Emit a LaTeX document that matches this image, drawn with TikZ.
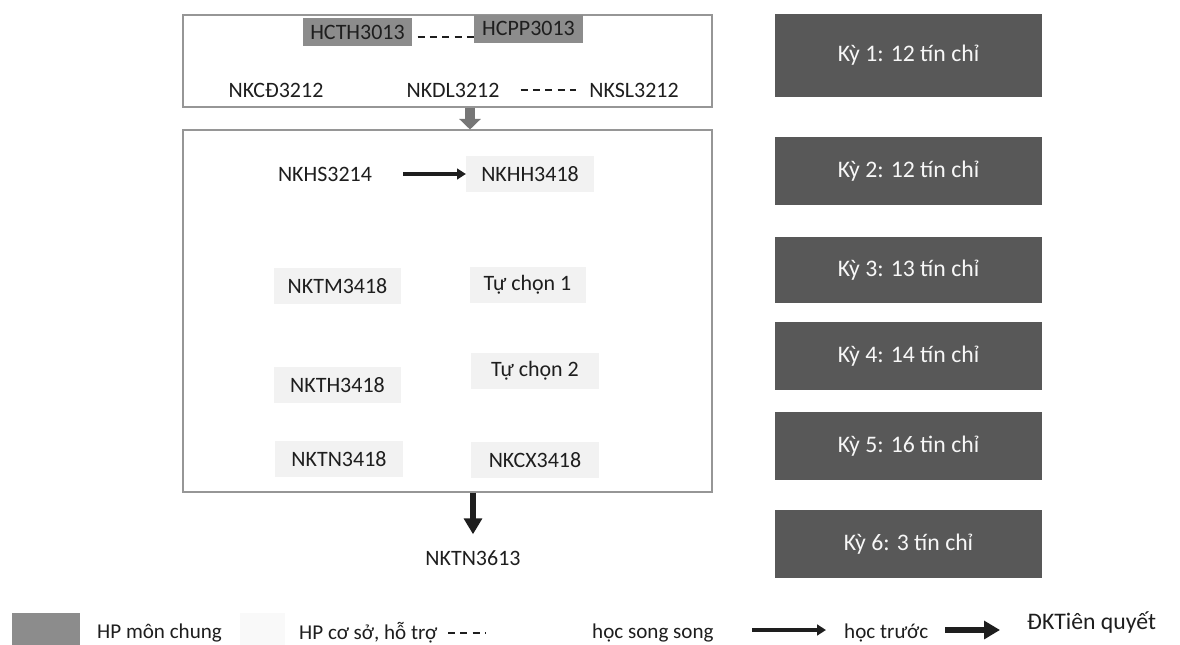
\documentclass[tikz,border=0pt]{standalone}
\usepackage{fontspec}
\setmainfont{Carlito}
\usetikzlibrary{arrows.meta, positioning, calc}
\definecolor{ky-dark}{RGB}{88,88,88}
\definecolor{chung-gray}{RGB}{140,140,140}
\definecolor{coso-light}{RGB}{242,242,242}
\definecolor{coso-legend}{RGB}{249,249,249}
\definecolor{frame-gray}{RGB}{150,150,150}
\definecolor{block-gray}{RGB}{118,118,118}
\definecolor{text-dark}{RGB}{30,30,30}

\begin{document}
\begin{tikzpicture}[
  >=Stealth,
  every node/.style = {font=\fontsize{12.5}{14}\selectfont, text=text-dark},
  % Box styles
  framebox/.style   = {draw=frame-gray, line width=0.6pt, fill=white, minimum width=10.58cm},
  chungbox/.style   = {fill=chung-gray, minimum width=2.18cm, minimum height=0.56cm, inner sep=1pt},
  cosobox/.style    = {fill=coso-light, minimum width=2.55cm, minimum height=0.72cm},
  kybox/.style      = {fill=ky-dark, text=white!94!gray, minimum width=5.34cm,
                       font=\fontsize{13.5}{15}\selectfont},
  % Arrow styles
  songsong/.style   = {dash pattern=on 4pt off 3pt, line width=0.9pt, text-dark},
  truoc/.style      = {-{Triangle[length=5pt, width=6pt]}, line width=2.2pt, text-dark},
  tienquyet/.style  = {-{Triangle[length=9pt, width=10pt]}, line width=3.4pt, text-dark},
  blockarrow/.style = {-{Triangle[length=6pt, width=12pt]}, line width=5.5pt, block-gray},
  legendtext/.style = {anchor=west, font=\fontsize{12}{14}\selectfont},
]
\useasboundingbox (0,0) rectangle (23.6,-12.9);

% ── Frames ─────────────────────────────────────────────────────────────────────
\node[framebox, minimum height=1.84cm] (frame1) at (8.95,-1.22) {};
\node[framebox, minimum height=7.24cm] (frame2) at (8.95,-6.22) {};

% ── Courses ────────────────────────────────────────────────────────────────────

% semester 1
\node[chungbox] (hcth) at (7.15,-0.64) {HCTH3013};
\node[chungbox] (hcpp) at (10.57,-0.57) {HCPP3013};
\node (nkcd) at (5.52,-1.8) {NKCĐ3212};
\node (nkdl) at (9.06,-1.8) {NKDL3212};
\node (nksl) at (12.68,-1.8) {NKSL3212};

% semesters 2 to 5
\node (nkhs) at (6.5,-3.48) {NKHS3214};
\node[cosobox] (nkhh) at (10.6,-3.48) {NKHH3418};
\node[cosobox] (nktm) at (6.75,-5.72) {NKTM3418};
\node[cosobox, minimum width=2.32cm] (tuchon1) at (10.55,-5.7) {Tự chọn 1};
\node[cosobox] (nkth) at (6.75,-7.7) {NKTH3418};
\node[cosobox] (tuchon2) at (10.7,-7.42) {Tự chọn 2};
\node[cosobox] (nktn) at (6.78,-9.18) {NKTN3418};
\node[cosobox] (nkcx) at (10.7,-9.2) {NKCX3418};

% semester 6
\node (nktn3613) at (9.46,-11.16) {NKTN3613};

% ── Semester boxes ─────────────────────────────────────────────────────────────
\node[kybox, minimum height=1.66cm] (ky1) at (18.17,-1.11)  {Kỳ 1: 12 tín chỉ};
\node[kybox, minimum height=1.36cm] (ky2) at (18.17,-3.42)  {Kỳ 2: 12 tín chỉ};
\node[kybox, minimum height=1.32cm] (ky3) at (18.17,-5.4)   {Kỳ 3: 13 tín chỉ};
\node[kybox, minimum height=1.36cm] (ky4) at (18.17,-7.12)  {Kỳ 4: 14 tín chỉ};
\node[kybox, minimum height=1.36cm] (ky5) at (18.17,-8.92)  {Kỳ 5: 16 tin chỉ};
\node[kybox, minimum height=1.36cm] (ky6) at (18.17,-10.88) {Kỳ 6: 3 tín chỉ};

% ── Arrows ─────────────────────────────────────────────────────────────────────
\draw[blockarrow] ([xshift=0.45cm]frame1.south) -- ([xshift=0.45cm]frame2.north);

\draw[songsong, shorten <=3pt]
  ([yshift=-3pt]hcth.east) -- ([yshift=-3pt]hcth.east -| hcpp.west);
\draw[songsong, shorten <=0.3cm, shorten >=0.15cm] (nkdl.east) -- (nksl.west);

\draw[truoc] ([xshift=0.5cm]nkhs.east) -- (nkhh.west);

\draw[tienquyet, shorten >=0.2cm] (frame2.south -| nktn3613) -- (nktn3613.north);

% ── Legend ─────────────────────────────────────────────────────────────────────
\node[fill=chung-gray, minimum width=1.36cm, minimum height=0.64cm] (legchung) at (0.92,-12.58) {};
\node[legendtext] (legchungtxt) at (1.82,-12.66) {HP môn chung};
\node[fill=coso-legend, minimum width=0.9cm, minimum height=0.64cm] (legcoso) at (5.25,-12.58) {};
\node[legendtext] (legcosotxt) at (5.86,-12.66) {HP cơ sở, hỗ trợ};

\coordinate (ss1) at (8.96,-12.66);
\coordinate (ss2) at (9.7,-12.66);
\draw[songsong] (ss1) -- (ss2);
\node[legendtext] (legss) at (11.72,-12.66) {học song song};

\coordinate (tr1) at (15.04,-12.6);
\coordinate (tr2) at (16.52,-12.6);
\draw[truoc] (tr1) -- (tr2);
\node[legendtext] (legtruoc) at (16.76,-12.66) {học trước};

\coordinate (tq1) at (18.9,-12.6);
\coordinate (tq2) at (20.0,-12.6);
\draw[tienquyet] (tq1) -- (tq2);
\node[legendtext, font=\fontsize{13.5}{15}\selectfont] (legtq) at (20.42,-12.46) {ĐKTiên quyết};

\end{tikzpicture}
\end{document}
